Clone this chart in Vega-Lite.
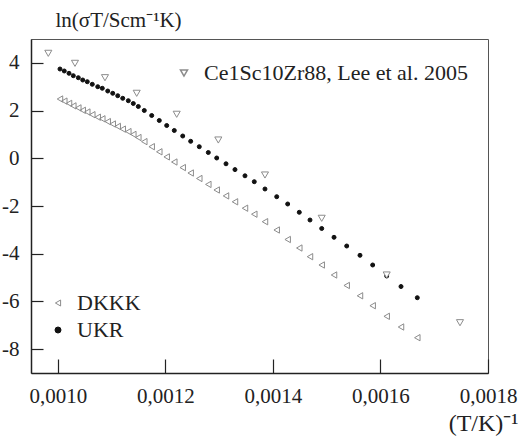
{
  "$schema": "https://vega.github.io/schema/vega-lite/v6.json",
  "width": 457,
  "height": 334,
  "autosize": "none",
  "padding": {"left": 31, "top": 39, "right": 30, "bottom": 63},
  "background": "white",
  "config": {
    "view": {"stroke": "#555", "strokeWidth": 1},
    "font": "Liberation Serif",
    "axis": {"labelFont": "Liberation Serif", "titleFont": "Liberation Serif", "labelColor": "#222", "titleColor": "#222", "grid": false, "domainColor": "#222", "domainWidth": 1.5, "tickColor": "#222", "tickWidth": 1.2, "titleFontWeight": "normal"},
    "legend": {"labelFont": "Liberation Serif", "labelColor": "#222", "labelLimit": 0}
  },
  "datasets": {
    "measured": [
      {"series": "UKR", "invT": 0.0010039, "lnsT": 3.742}, {"series": "UKR", "invT": 0.0010119, "lnsT": 3.659}, {"series": "UKR", "invT": 0.0010207, "lnsT": 3.562}, {"series": "UKR", "invT": 0.0010287, "lnsT": 3.462},
      {"series": "UKR", "invT": 0.0010380, "lnsT": 3.378}, {"series": "UKR", "invT": 0.0010462, "lnsT": 3.281}, {"series": "UKR", "invT": 0.0010547, "lnsT": 3.210}, {"series": "UKR", "invT": 0.0010640, "lnsT": 3.101},
      {"series": "UKR", "invT": 0.0010741, "lnsT": 3.001}, {"series": "UKR", "invT": 0.0010826, "lnsT": 2.934}, {"series": "UKR", "invT": 0.0010927, "lnsT": 2.820}, {"series": "UKR", "invT": 0.0011020, "lnsT": 2.724},
      {"series": "UKR", "invT": 0.0011113, "lnsT": 2.623}, {"series": "UKR", "invT": 0.0011206, "lnsT": 2.514}, {"series": "UKR", "invT": 0.0011310, "lnsT": 2.414}, {"series": "UKR", "invT": 0.0011403, "lnsT": 2.296},
      {"series": "UKR", "invT": 0.0011496, "lnsT": 2.171}, {"series": "UKR", "invT": 0.0011607, "lnsT": 2.003}, {"series": "UKR", "invT": 0.0011745, "lnsT": 1.793}, {"series": "UKR", "invT": 0.0011886, "lnsT": 1.584},
      {"series": "UKR", "invT": 0.0012024, "lnsT": 1.374}, {"series": "UKR", "invT": 0.0012165, "lnsT": 1.165}, {"series": "UKR", "invT": 0.0012322, "lnsT": 0.934}, {"series": "UKR", "invT": 0.0012470, "lnsT": 0.712},
      {"series": "UKR", "invT": 0.0012630, "lnsT": 0.486}, {"series": "UKR", "invT": 0.0012798, "lnsT": 0.242}, {"series": "UKR", "invT": 0.0012954, "lnsT": 0.012}, {"series": "UKR", "invT": 0.0013127, "lnsT": -0.231},
      {"series": "UKR", "invT": 0.0013294, "lnsT": -0.474}, {"series": "UKR", "invT": 0.0013480, "lnsT": -0.734}, {"series": "UKR", "invT": 0.0013653, "lnsT": -0.981}, {"series": "UKR", "invT": 0.0013852, "lnsT": -1.287},
      {"series": "UKR", "invT": 0.0014070, "lnsT": -1.610}, {"series": "UKR", "invT": 0.0014274, "lnsT": -1.916}, {"series": "UKR", "invT": 0.0014490, "lnsT": -2.264}, {"series": "UKR", "invT": 0.0014689, "lnsT": -2.587},
      {"series": "UKR", "invT": 0.0014907, "lnsT": -2.943}, {"series": "UKR", "invT": 0.0015136, "lnsT": -3.312}, {"series": "UKR", "invT": 0.0015372, "lnsT": -3.677}, {"series": "UKR", "invT": 0.0015619, "lnsT": -4.067},
      {"series": "UKR", "invT": 0.0015855, "lnsT": -4.473}, {"series": "UKR", "invT": 0.0016116, "lnsT": -4.934}, {"series": "UKR", "invT": 0.0016382, "lnsT": -5.375}, {"series": "UKR", "invT": 0.0016685, "lnsT": -5.844},
      {"series": "DKKK", "invT": 0.0010039, "lnsT": 2.485}, {"series": "DKKK", "invT": 0.0010119, "lnsT": 2.397}, {"series": "DKKK", "invT": 0.0010207, "lnsT": 2.301}, {"series": "DKKK", "invT": 0.0010287, "lnsT": 2.196},
      {"series": "DKKK", "invT": 0.0010380, "lnsT": 2.112}, {"series": "DKKK", "invT": 0.0010462, "lnsT": 2.011}, {"series": "DKKK", "invT": 0.0010547, "lnsT": 1.940}, {"series": "DKKK", "invT": 0.0010640, "lnsT": 1.827},
      {"series": "DKKK", "invT": 0.0010741, "lnsT": 1.722}, {"series": "DKKK", "invT": 0.0010826, "lnsT": 1.655}, {"series": "DKKK", "invT": 0.0010927, "lnsT": 1.538}, {"series": "DKKK", "invT": 0.0011020, "lnsT": 1.437},
      {"series": "DKKK", "invT": 0.0011113, "lnsT": 1.337}, {"series": "DKKK", "invT": 0.0011206, "lnsT": 1.223}, {"series": "DKKK", "invT": 0.0011310, "lnsT": 1.119}, {"series": "DKKK", "invT": 0.0011403, "lnsT": 1.001},
      {"series": "DKKK", "invT": 0.0011496, "lnsT": 0.871}, {"series": "DKKK", "invT": 0.0011607, "lnsT": 0.699}, {"series": "DKKK", "invT": 0.0011745, "lnsT": 0.486}, {"series": "DKKK", "invT": 0.0011886, "lnsT": 0.272},
      {"series": "DKKK", "invT": 0.0012024, "lnsT": 0.058}, {"series": "DKKK", "invT": 0.0012165, "lnsT": -0.156}, {"series": "DKKK", "invT": 0.0012322, "lnsT": -0.390}, {"series": "DKKK", "invT": 0.0012470, "lnsT": -0.617},
      {"series": "DKKK", "invT": 0.0012630, "lnsT": -0.847}, {"series": "DKKK", "invT": 0.0012798, "lnsT": -1.095}, {"series": "DKKK", "invT": 0.0012954, "lnsT": -1.329}, {"series": "DKKK", "invT": 0.0013127, "lnsT": -1.577},
      {"series": "DKKK", "invT": 0.0013294, "lnsT": -1.824}, {"series": "DKKK", "invT": 0.0013480, "lnsT": -2.092}, {"series": "DKKK", "invT": 0.0013653, "lnsT": -2.344}, {"series": "DKKK", "invT": 0.0013852, "lnsT": -2.658},
      {"series": "DKKK", "invT": 0.0014070, "lnsT": -3.006}, {"series": "DKKK", "invT": 0.0014274, "lnsT": -3.404}, {"series": "DKKK", "invT": 0.0014490, "lnsT": -3.761}, {"series": "DKKK", "invT": 0.0014689, "lnsT": -4.125},
      {"series": "DKKK", "invT": 0.0014907, "lnsT": -4.473}, {"series": "DKKK", "invT": 0.0015136, "lnsT": -4.892}, {"series": "DKKK", "invT": 0.0015372, "lnsT": -5.332}, {"series": "DKKK", "invT": 0.0015619, "lnsT": -5.764},
      {"series": "DKKK", "invT": 0.0015855, "lnsT": -6.179}, {"series": "DKKK", "invT": 0.0016116, "lnsT": -6.624}, {"series": "DKKK", "invT": 0.0016382, "lnsT": -7.072}, {"series": "DKKK", "invT": 0.0016685, "lnsT": -7.520}
    ],
    "lee": [
      {"series": "Ce1Sc10Zr88, Lee et al. 2005", "invT": 0.0009822, "lnsT": 4.40},
      {"series": "Ce1Sc10Zr88, Lee et al. 2005", "invT": 0.0010318, "lnsT": 3.98},
      {"series": "Ce1Sc10Zr88, Lee et al. 2005", "invT": 0.0010876, "lnsT": 3.378},
      {"series": "Ce1Sc10Zr88, Lee et al. 2005", "invT": 0.0011466, "lnsT": 2.724},
      {"series": "Ce1Sc10Zr88, Lee et al. 2005", "invT": 0.0012210, "lnsT": 1.844},
      {"series": "Ce1Sc10Zr88, Lee et al. 2005", "invT": 0.0012984, "lnsT": 0.766},
      {"series": "Ce1Sc10Zr88, Lee et al. 2005", "invT": 0.0013852, "lnsT": -0.701},
      {"series": "Ce1Sc10Zr88, Lee et al. 2005", "invT": 0.0014907, "lnsT": -2.516},
      {"series": "Ce1Sc10Zr88, Lee et al. 2005", "invT": 0.0016116, "lnsT": -4.892},
      {"series": "Ce1Sc10Zr88, Lee et al. 2005", "invT": 0.0017479, "lnsT": -6.892}
    ]
  },
  "encoding": {
    "x": {"field": "invT", "type": "quantitative",
      "scale": {"domain": [0.00095, 0.0018], "nice": false, "zero": false},
      "axis": {"values": [0.001, 0.0012, 0.0014, 0.0016, 0.0018], "labelExpr": "replace(format(datum.value, '.4f'), '.', ',')", "tickSize": -14, "labelPadding": 26, "labelFlush": false, "labelOverlap": false,
        "labelFont": "Liberation Serif", "labelFontSize": 21, "titleFont": "Liberation Serif", "titleFontSize": 24,
        "title": "(T/K)⁻¹", "titleX": 487, "titleY": 57, "titleAlign": "right", "titleBaseline": "alphabetic", "titleAnchor": "start"}},
    "y": {"field": "lnsT", "type": "quantitative",
      "scale": {"domain": [-9, 5], "nice": false, "zero": false},
      "axis": {"values": [-8, -6, -4, -2, 0, 2, 4], "labelExpr": "'' + datum.value", "tickSize": -12, "labelPadding": 24, "labelFlush": false, "labelOverlap": false,
        "labelFont": "Liberation Serif", "labelFontSize": 21, "titleFont": "Liberation Serif", "titleFontSize": 21,
        "title": "ln(σT/Scm⁻¹K)", "titleAngle": 0, "titleX": 24, "titleY": -13, "titleAlign": "left", "titleBaseline": "alphabetic", "titleAnchor": "start"}}
  },
  "layer": [
    {
      "data": {"name": "measured"},
      "mark": {"type": "point", "filled": false, "strokeWidth": 1, "opacity": 1},
      "encoding": {
        "shape": {"field": "series", "type": "nominal", "scale": {"domain": ["DKKK", "UKR"], "range": ["triangle-left", "circle"]},
          "legend": {"orient": "none", "legendX": 16, "legendY": 253, "title": null, "rowPadding": 5, "labelOffset": 8, "symbolSize": 36, "symbolStrokeWidth": 1,
            "labelFont": "Liberation Serif", "labelFontSize": 22, "labelColor": "#222"}},
        "color": {"field": "series", "type": "nominal", "scale": {"domain": ["DKKK", "UKR"], "range": ["#8c8c8c", "#111111"]},
          "legend": {"orient": "none", "legendX": 16, "legendY": 253, "title": null, "rowPadding": 5, "labelOffset": 8, "symbolSize": 36, "symbolStrokeWidth": 1,
            "labelFont": "Liberation Serif", "labelFontSize": 22, "labelColor": "#222"}},
        "fill": {"field": "series", "type": "nominal", "scale": {"domain": ["DKKK", "UKR"], "range": ["transparent", "#111111"]},
          "legend": {"orient": "none", "legendX": 16, "legendY": 253, "title": null, "rowPadding": 5, "labelOffset": 8, "symbolSize": 36, "symbolStrokeWidth": 1,
            "labelFont": "Liberation Serif", "labelFontSize": 22, "labelColor": "#222"}},
        "size": {"condition": {"test": "datum.series === 'UKR'", "value": 16}, "value": 40}
      }
    },
    {
      "data": {"name": "lee"},
      "mark": {"type": "point", "filled": true, "fill": "white", "stroke": "#8c8c8c", "strokeWidth": 1, "size": 50, "opacity": 1},
      "encoding": {
        "shape": {"field": "series", "type": "nominal", "scale": {"domain": ["Ce1Sc10Zr88, Lee et al. 2005"], "range": ["triangle-down"]},
          "legend": {"orient": "none", "legendX": 142, "legendY": 23, "title": null, "labelOffset": 9, "symbolSize": 50, "labelLimit": 0,
            "labelFont": "Liberation Serif", "labelFontSize": 22, "labelColor": "#222",
            "encode": {"symbols": {
              "fill": {"value": "white"}, "stroke": {"value": "#8c8c8c"}, "strokeWidth": {"value": 1}, "size": {"value": 50}}}}}
      }
    }
  ],
  "resolve": {"scale": {"shape": "independent", "color": "independent", "fill": "independent"}, "legend": {"shape": "independent", "color": "independent", "fill": "independent"}}
}
